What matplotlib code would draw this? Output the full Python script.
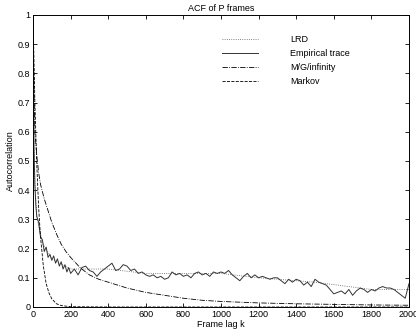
import numpy as np
import matplotlib
matplotlib.use('Agg')
import matplotlib.pyplot as plt

plt.rcParams['font.family'] = ['Liberation Sans', 'DejaVu Sans']

# Empirical ACF of P frames
emp_lag_early = [0, 5, 10, 15, 20, 30, 40, 50, 60, 70, 80, 90, 100, 110, 120,
                 130, 140, 150, 160, 170, 180, 190]
emp_acf_early = [1.0, 0.55, 0.42, 0.35, 0.31, 0.29, 0.24, 0.23, 0.19, 0.205,
                 0.17, 0.18, 0.16, 0.175, 0.15, 0.165, 0.14, 0.155, 0.13,
                 0.145, 0.12, 0.135]
emp_acf_late = [0.115, 0.13, 0.11, 0.135, 0.14, 0.125, 0.12, 0.105, 0.12, 0.13,
                0.14, 0.15, 0.125, 0.13, 0.145, 0.14, 0.125, 0.13, 0.115, 0.12,
                0.11, 0.105, 0.11, 0.10, 0.105, 0.095, 0.10, 0.12, 0.11, 0.115,
                0.105, 0.11, 0.10, 0.115, 0.12, 0.11, 0.115, 0.105, 0.12, 0.115,
                0.12, 0.115, 0.125, 0.11, 0.10, 0.09, 0.105, 0.115, 0.10, 0.11,
                0.10, 0.105, 0.10, 0.095, 0.10, 0.10, 0.09, 0.08, 0.095, 0.085,
                0.095, 0.09, 0.075, 0.085, 0.07, 0.095, 0.085, 0.08, 0.075, 0.06,
                0.045, 0.05, 0.055, 0.045, 0.06, 0.04, 0.055, 0.065, 0.06, 0.05,
                0.06, 0.055, 0.065, 0.07, 0.065, 0.065, 0.06, 0.05, 0.04, 0.03,
                0.08]
emp_lag_late = list(range(200, 2001, 20))

# model fits
lrd_lag = [0, 2, 5, 10, 20, 50, 100, 200, 400, 600, 1000, 1200, 1500, 1800, 2000]
lrd_acf = [1.0, 0.75, 0.55, 0.42, 0.31, 0.22, 0.165, 0.13, 0.13, 0.115, 0.115,
           0.10, 0.085, 0.06, 0.06]

mg_lag = [0, 5, 10, 20, 30, 40, 60, 80, 100, 125, 150, 175, 200, 250, 300, 350,
          400, 500, 600, 700, 800, 900, 1000, 1200, 1400, 1600, 1800, 2000]
mg_acf = [1.0, 0.75, 0.60, 0.52, 0.46, 0.42, 0.37, 0.33, 0.29, 0.25, 0.215,
          0.19, 0.17, 0.135, 0.11, 0.095, 0.085, 0.065, 0.05, 0.04, 0.03,
          0.023, 0.019, 0.014, 0.011, 0.009, 0.007, 0.006]

markov_lag = [0, 10, 20, 30, 40, 55, 70, 85, 100, 125, 150, 200, 400, 1000, 2000]
markov_acf = [1.0, 0.70, 0.49, 0.34, 0.24, 0.14, 0.08, 0.048, 0.028, 0.011,
              0.005, 0.001, 0.0, 0.0, 0.0]

emp_lag = emp_lag_early + emp_lag_late
emp_acf = emp_acf_early + emp_acf_late

fig = plt.figure(figsize=(4.16, 3.35), dpi=100)
ax = fig.add_axes([33 / 416, 28 / 335, 376 / 416, 292 / 335])

ax.plot(lrd_lag, lrd_acf, ':', color='0.35', lw=0.6, label='LRD')
ax.plot(emp_lag, emp_acf, '-', color='0.2', lw=0.7, label='Empirical trace')
ax.plot(mg_lag, mg_acf, '-.', color='k', lw=0.6, label='M/G/infinity')
ax.plot(markov_lag, markov_acf, '--', color='k', lw=0.6, label='Markov')

ax.set_xlim(0, 2000)
ax.set_ylim(0, 1)
ax.set_xticks(np.arange(0, 2001, 200))
ax.set_yticks(np.arange(0, 1.01, 0.1))
ax.set_yticklabels(['0', '0.1', '0.2', '0.3', '0.4', '0.5', '0.6', '0.7',
                    '0.8', '0.9', '1'])
ax.tick_params(direction='in', top=True, right=True, length=3, width=0.6,
               labelsize=6.5, pad=2)
for s in ax.spines.values():
    s.set_linewidth(0.7)

ax.set_title('ACF of P frames', fontsize=6.5, pad=3)
ax.set_xlabel('Frame lag k', fontsize=6.5, labelpad=1)
ax.set_ylabel('Autocorrelation', fontsize=6.5, labelpad=2)

ax.legend(loc='upper left', bbox_to_anchor=(0.503, 0.93), frameon=False,
          fontsize=6.5, handlelength=4, handletextpad=3.5, labelspacing=0.55,
          borderpad=0, borderaxespad=0)

fig.savefig('out.png', dpi=100)
